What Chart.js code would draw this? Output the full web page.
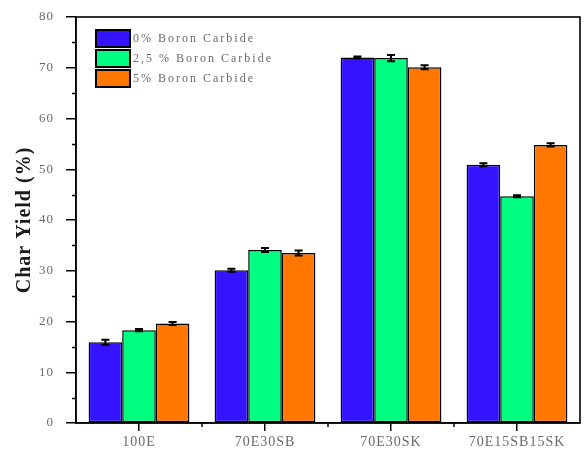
<!DOCTYPE html>
<html>
<head>
<meta charset="utf-8">
<script src="https://cdn.jsdelivr.net/npm/chart.js@4/dist/chart.umd.min.js"></script>
<style>
  html, body { margin: 0; padding: 0; background: #fff; }
  #wrap { width: 584px; height: 454px; }
</style>
</head>
<body>
<div id="wrap"><canvas id="c" width="584" height="454"></canvas></div>
<script>
// Sample groups and char yield values (%) per boron carbide loading
const categories = ['100E', '70E30SB', '70E30SK', '70E15SB15SK'];
const seriesLabels = ['0% Boron Carbide', '2,5 % Boron Carbide', '5% Boron Carbide'];
const yield0 = [15.9, 30.1, 72.0, 50.9];
const yield25 = [18.3, 34.1, 71.9, 44.7];
const yield5 = [19.6, 33.5, 70.1, 54.8];
const err0 = [0.5, 0.3, 0.2, 0.3];
const err25 = [0.2, 0.4, 0.6, 0.2];
const err5 = [0.3, 0.5, 0.4, 0.3];
const yTicks = [0, 10, 20, 30, 40, 50, 60, 70, 80];

const colors = ['#3414FF', '#00FF80', '#FF7700'];
const serif = '"Liberation Serif", "DejaVu Serif", serif';

// Error bars, minor ticks, frame and inset legend
const decorations = {
  id: 'decorations',
  beforeDraw(chart) {
    chart.ctx.letterSpacing = '1px';
  },
  afterDatasetsDraw(chart) {
    const ctx = chart.ctx;
    const y = chart.scales.y;
    const errs = [err0, err25, err5];
    ctx.save();
    ctx.strokeStyle = '#000';
    ctx.lineWidth = 2;
    chart.data.datasets.forEach((ds, i) => {
      const meta = chart.getDatasetMeta(i);
      meta.data.forEach((bar, j) => {
        const v = ds.data[j], e = errs[i][j];
        const top = y.getPixelForValue(v + e), bot = y.getPixelForValue(v - e);
        ctx.beginPath();
        ctx.moveTo(bar.x, top); ctx.lineTo(bar.x, bot);
        ctx.moveTo(bar.x - 4, top); ctx.lineTo(bar.x + 4, top);
        ctx.moveTo(bar.x - 4, bot); ctx.lineTo(bar.x + 4, bot);
        ctx.stroke();
      });
    });
    ctx.restore();
  },
  afterDraw(chart) {
    const ctx = chart.ctx;
    const a = chart.chartArea;
    const x = chart.scales.x, y = chart.scales.y;
    ctx.save();
    ctx.strokeStyle = '#000';
    ctx.lineWidth = 1.5;
    // minor ticks on y (every 5)
    ctx.beginPath();
    for (let v = 5; v < 80; v += 10) {
      const py = Math.round(y.getPixelForValue(v)) + 0.5;
      ctx.moveTo(a.left - 4, py); ctx.lineTo(a.left, py);
    }
    // minor ticks on x (between groups)
    for (let j = 0; j < categories.length - 1; j++) {
      const px = (x.getPixelForValue(j) + x.getPixelForValue(j + 1)) / 2;
      ctx.moveTo(px, a.bottom); ctx.lineTo(px, a.bottom + 4);
    }
    ctx.stroke();
    // frame
    ctx.lineWidth = 1.6;
    ctx.strokeRect(a.left, a.top, a.right - a.left, a.bottom - a.top);
    // legend
    const lx = a.left + 20, ly0 = a.top + 13, sw = 34, sh = 17, gap = 20;
    ctx.letterSpacing = '2px';
    chart.data.datasets.forEach((ds, i) => {
      const ly = ly0 + i * gap;
      ctx.fillStyle = ds.backgroundColor;
      ctx.fillRect(lx, ly, sw, sh);
      ctx.lineWidth = 2;
      ctx.strokeStyle = '#000';
      ctx.strokeRect(lx, ly, sw, sh);
      ctx.fillStyle = '#6a6a6a';
      ctx.font = '12px ' + serif;
      ctx.textBaseline = 'middle';
      ctx.textAlign = 'left';
      ctx.fillText(ds.label, lx + sw + 3, ly + sh / 2);
    });
    ctx.restore();
    ctx.letterSpacing = '0px';
  }
};

const dsBase = { borderColor: '#000', borderWidth: 1.5, borderSkipped: false, categoryPercentage: 0.8, barPercentage: 1.0 };

new Chart(document.getElementById('c'), {
  type: 'bar',
  data: {
    labels: categories,
    datasets: [
      Object.assign({ label: seriesLabels[0], data: yield0, backgroundColor: colors[0] }, dsBase),
      Object.assign({ label: seriesLabels[1], data: yield25, backgroundColor: colors[1] }, dsBase),
      Object.assign({ label: seriesLabels[2], data: yield5, backgroundColor: colors[2] }, dsBase)
    ]
  },
  options: {
    responsive: false,
    animation: false,
    devicePixelRatio: 1,
    layout: { padding: { top: 17, right: 4, left: 0, bottom: 0 } },
    plugins: { legend: { display: false }, tooltip: { enabled: false } },
    scales: {
      x: {
        offset: true,
        grid: { offset: false, drawOnChartArea: false, drawTicks: true, tickLength: 8, color: '#000', lineWidth: 1.5 },
        border: { display: true, color: '#000', width: 1.5 },
        ticks: { color: '#6a6a6a', font: { family: serif, size: 14 }, padding: 3, maxRotation: 0 },
        afterFit(s) { s.height = 31; }
      },
      y: {
        min: 0, max: 80,
        afterBuildTicks(s) { s.ticks = yTicks.map(v => ({ value: v })); },
        grid: { drawOnChartArea: false, drawTicks: true, tickLength: 10, color: '#000', lineWidth: 1.5 },
        border: { display: true, color: '#000', width: 1.5 },
        ticks: { color: '#6a6a6a', font: { family: serif, size: 13 }, padding: 12 },
        title: { display: true, text: 'Char Yield (%)', color: '#1a1a1a', font: { family: serif, size: 20, weight: 'bold' }, padding: { top: 13, bottom: 0 } },
        afterFit(s) { s.width = 76; s.paddingTop = 0; s.paddingBottom = 0; }
      }
    }
  },
  plugins: [decorations]
});
</script>
</body>
</html>
